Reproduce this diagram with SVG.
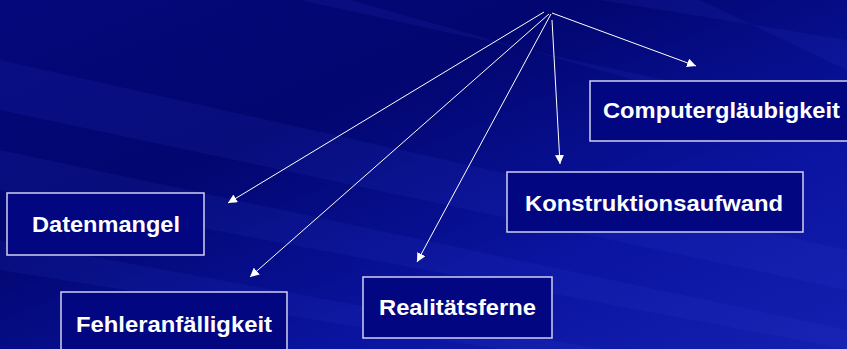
<svg xmlns="http://www.w3.org/2000/svg" width="847" height="349" viewBox="0 0 847 349">
<defs>
<linearGradient id="bg" x1="0" y1="0" x2="1" y2="1">
<stop offset="0" stop-color="#04087a"/>
<stop offset="0.35" stop-color="#020670"/>
<stop offset="0.7" stop-color="#0a14a0"/>
<stop offset="1" stop-color="#1620b0"/>
</linearGradient>
<marker id="ah" viewBox="0 0 10 10" refX="10" refY="5" markerWidth="9" markerHeight="9" markerUnits="userSpaceOnUse" orient="auto">
<path d="M0,0 L10,5 L0,10 z" fill="#ffffff"/>
</marker>
<style>
.box{fill:#020680;stroke:#d0d0f0;stroke-width:1.5}
.lbl{font-family:"Liberation Sans",Arial,sans-serif;font-weight:bold;font-size:21.5px;fill:#ffffff}
.con{stroke:#ffffff;stroke-width:1;fill:none;marker-end:url(#ah)}
.ray{fill:#3040d0}
</style>
</defs>
<rect width="847" height="349" fill="url(#bg)"/>
<g opacity="0.13">
<polygon class="ray" points="0,60 847,250 847,290 0,110"/>
<polygon class="ray" points="0,150 847,330 847,349 0,190"/>
<polygon class="ray" points="300,0 847,120 847,140 350,0"/>
<polygon class="ray" points="0,240 600,349 500,349 0,270"/>
<polygon class="ray" points="600,0 847,40 847,70 700,0"/>
</g>
<g id="connectors">
<line class="con" x1="552" y1="13" x2="696" y2="66"/>
<line class="con" x1="552" y1="20" x2="560" y2="164"/>
<line class="con" x1="551" y1="14" x2="417" y2="262"/>
<line class="con" x1="549" y1="14" x2="250" y2="277"/>
<line class="con" x1="544" y1="12" x2="228" y2="203"/>
</g>
<g id="computerglaeubigkeit">
<rect class="box" x="590" y="81" width="270" height="60"/>
<text class="lbl" x="603" y="118" textLength="237" lengthAdjust="spacingAndGlyphs">Computergläubigkeit</text>
</g>
<g id="konstruktionsaufwand">
<rect class="box" x="507" y="172" width="296" height="60"/>
<text class="lbl" x="525" y="211" textLength="258" lengthAdjust="spacingAndGlyphs">Konstruktionsaufwand</text>
</g>
<g id="datenmangel">
<rect class="box" x="7" y="193" width="197" height="62"/>
<text class="lbl" x="32" y="232" textLength="148" lengthAdjust="spacingAndGlyphs">Datenmangel</text>
</g>
<g id="realitaetsferne">
<rect class="box" x="363" y="277" width="189" height="61"/>
<text class="lbl" x="379" y="315" textLength="157" lengthAdjust="spacingAndGlyphs">Realitätsferne</text>
</g>
<g id="fehleranfaelligkeit">
<rect class="box" x="61" y="292" width="226" height="70"/>
<text class="lbl" x="76" y="332" textLength="196" lengthAdjust="spacingAndGlyphs">Fehleranfälligkeit</text>
</g>
</svg>
